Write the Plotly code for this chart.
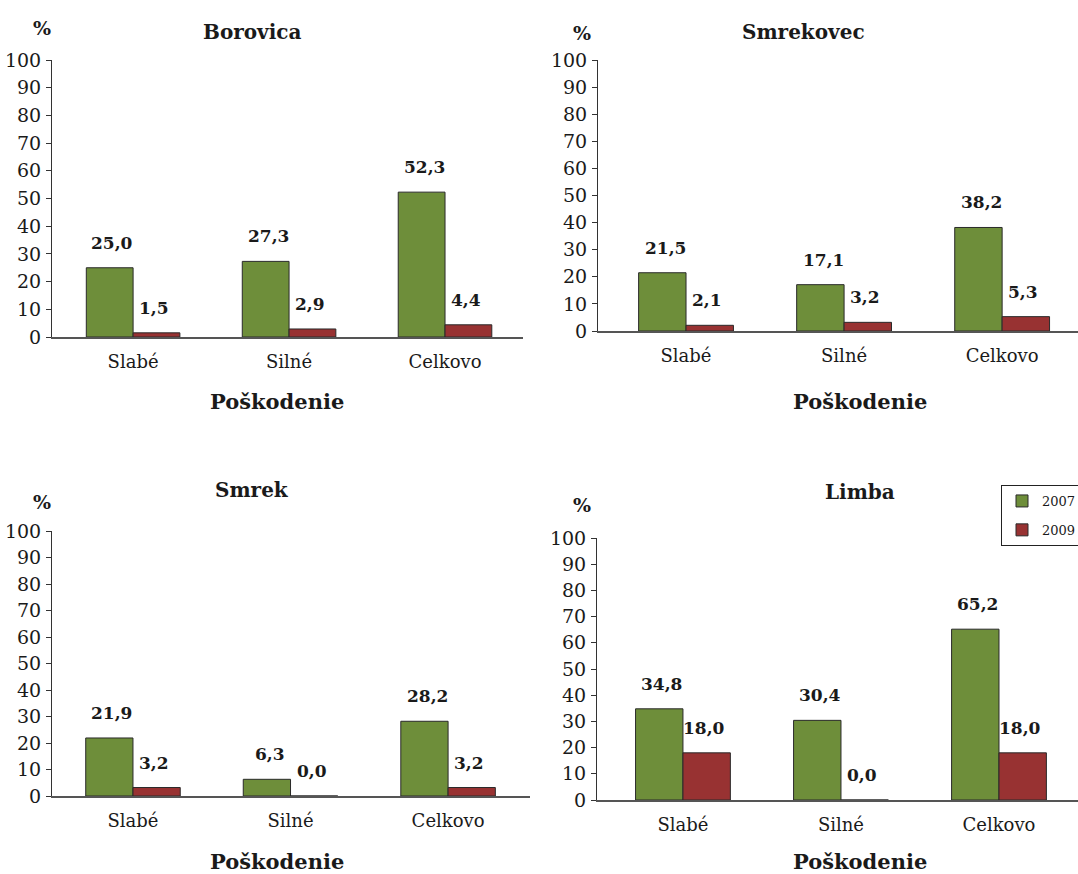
import plotly.graph_objects as go

categories = ["Slabé", "Silné", "Celkovo"]
panels = ["Borovica", "Smrekovec", "Smrek", "Limba"]
v2007 = {
    "Borovica": [25.0, 27.3, 52.3],
    "Smrekovec": [21.5, 17.1, 38.2],
    "Smrek": [21.9, 6.3, 28.2],
    "Limba": [34.8, 30.4, 65.2],
}
v2009 = {
    "Borovica": [1.5, 2.9, 4.4],
    "Smrekovec": [2.1, 3.2, 5.3],
    "Smrek": [3.2, 0.0, 3.2],
    "Limba": [18.0, 0.0, 18.0],
}
yticks = [0, 10, 20, 30, 40, 50, 60, 70, 80, 90, 100]
years = ["2007", "2009"]

W, H = 1078, 874
GREEN = "#6E8E3A"
RED = "#983232"
FONT = "DejaVu Serif"
INK = "#1a1a1a"

# layout geometry in pixels: (x_left, x_right, y_top, y_bottom, x_range)
geom = {
    "Borovica": (52, 523, 60, 337, [-0.52, 2.5]),
    "Smrekovec": (598, 1078, 60, 331, [-0.557, 2.48]),
    "Smrek": (52, 530, 531, 796, [-0.514, 2.52]),
    "Limba": (597, 1078, 538, 800, [-0.544, 2.5]),
}
title_pos = {"Borovica": (252, 32), "Smrekovec": (803, 32), "Smrek": (252, 490), "Limba": (860, 492)}
pct_pos = {"Borovica": (42, 28), "Smrekovec": (582, 33), "Smrek": (42, 502), "Limba": (582, 505)}
xlab_pos = {"Borovica": (277, 402), "Smrekovec": (860, 402), "Smrek": (277, 861), "Limba": (860, 861)}

def px(x):
    return x / W

def py(y):
    return 1 - y / H

def note(x, y, text, size):
    return dict(x=px(x), y=py(y), xref="paper", yref="paper", text=text, showarrow=False,
                xanchor="center", yanchor="middle", font=dict(family=FONT, size=size, color=INK))

fig = go.Figure()
annotations = []
layout = {}
for i, name in enumerate(panels):
    k = "" if i == 0 else str(i + 1)
    xl, xr, yt, yb, xr_range = geom[name]
    for yr, vals, col in [("2007", v2007[name], GREEN), ("2009", v2009[name], RED)]:
        fig.add_trace(go.Bar(
            x=categories, y=vals, name=yr, xaxis="x" + k, yaxis="y" + k,
            marker=dict(color=col, line=dict(color="#2a2a2a", width=1)),
            offsetgroup=yr, showlegend=(i == 3), legendgroup=yr,
        ))
        for c, v in zip(categories, vals):
            annotations.append(dict(
                x=c, y=v, xref="x" + k, yref="y" + k, text="<b>" + f"{v:.1f}".replace(".", ",") + "</b>",
                showarrow=False, xanchor="center", yanchor="bottom",
                xshift=(-21 if yr == "2007" else 21), yshift=13,
                font=dict(family=FONT, size=17, color=INK),
            ))
    layout["xaxis" + k] = dict(
        domain=[px(xl), px(xr)], anchor="y" + k, range=xr_range, type="category",
        showline=True, linecolor="#555", linewidth=1.5, ticks="", showgrid=False,
        automargin=False,
        tickfont=dict(family=FONT, size=18, color=INK), ticklabelstandoff=8,
    )
    layout["yaxis" + k] = dict(
        domain=[py(yb), py(yt)], anchor="x" + k, range=[0, 100], tickvals=yticks,
        showline=True, linecolor="#333", linewidth=1, ticks="outside", ticklen=5,
        tickcolor="#333", showgrid=False, zeroline=False, automargin=False,
        tickfont=dict(family=FONT, size=19, color=INK), ticklabelstandoff=1,
    )
    annotations.append(note(*title_pos[name], "<b>" + name + "</b>", 20))
    annotations.append(note(*pct_pos[name], "<b>%</b>", 19))
    annotations.append(note(*xlab_pos[name], "<b>Poškodenie</b>", 21))

fig.update_layout(
    template="none",
    width=W, height=H, margin=dict(l=0, r=0, t=0, b=0, autoexpand=False),
    paper_bgcolor="white", plot_bgcolor="white",
    barmode="group", bargap=0.4, bargroupgap=0,
    annotations=annotations,
    legend=dict(x=px(1001), y=py(485), xanchor="left", yanchor="top",
                bordercolor="#222", borderwidth=1, bgcolor="white",
                font=dict(family=FONT, size=13, color=INK),
                itemwidth=30, tracegroupgap=9),
    **layout,
)
fig.write_html("out.html")
